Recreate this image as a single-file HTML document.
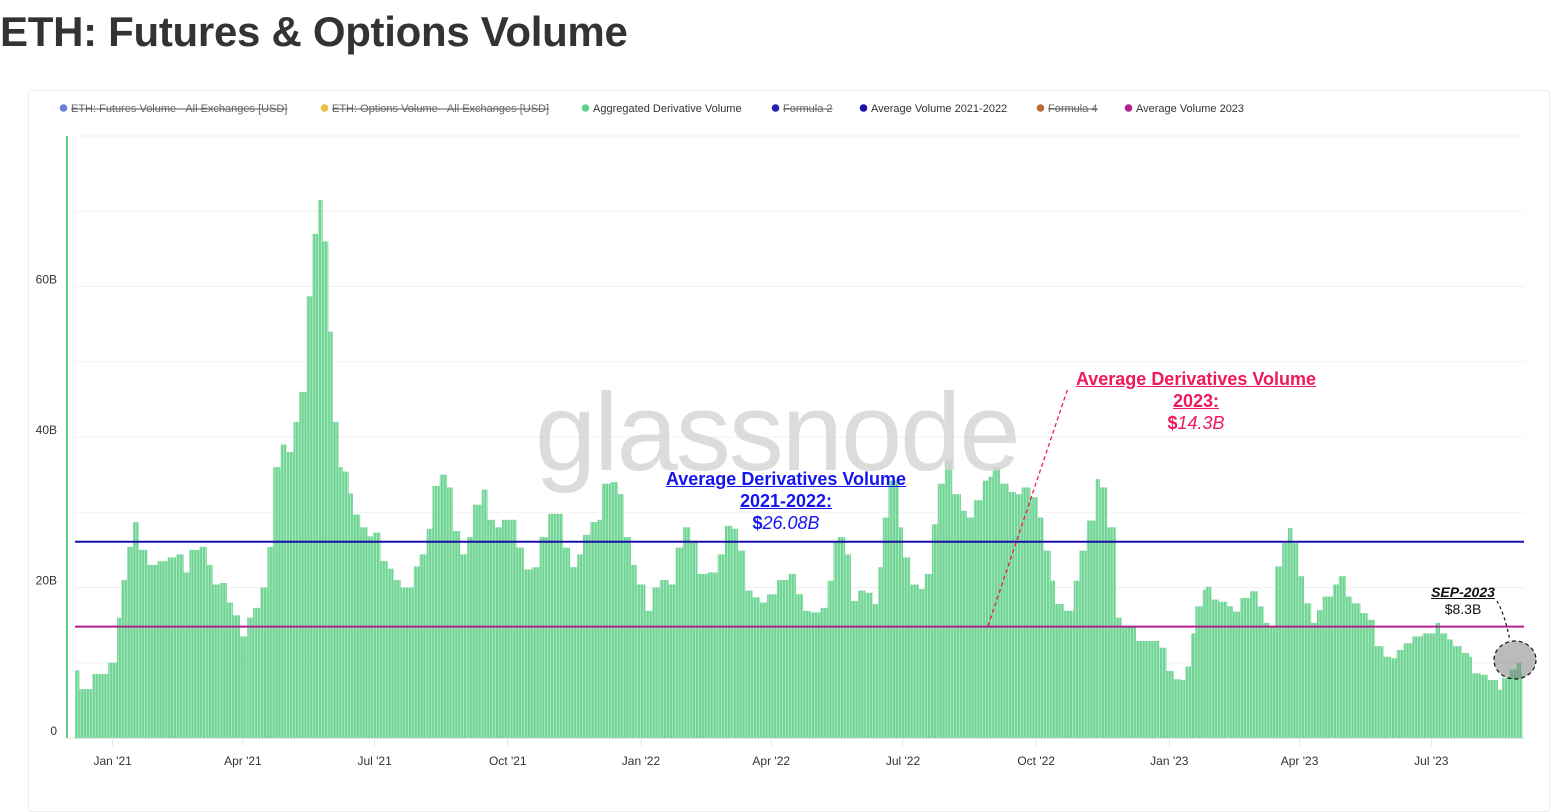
<!DOCTYPE html>
<html><head><meta charset="utf-8">
<style>
body{margin:0;background:#fff;width:1554px;height:802px;overflow:hidden;font-family:"Liberation Sans",sans-serif;}
#title{position:absolute;left:0;top:8px;font-size:42px;color:#333;margin:0;font-weight:bold;letter-spacing:-0.3px}
#card{position:absolute;left:28px;top:90px;width:1520px;height:720px;border:1px solid #ececec;border-radius:3px}
</style></head><body>
<h1 id="title">ETH: Futures &amp; Options Volume</h1>
<div id="card"></div>
<svg id="chart" width="1554" height="802" style="position:absolute;left:0;top:0">
<defs>
<pattern id="stripes" patternUnits="userSpaceOnUse" width="2.9" height="10">
<rect x="0" y="0" width="2.9" height="10" fill="#b9ebcb"/>
<rect x="0" y="0" width="2.1" height="10" fill="#6dd493"/>
</pattern>
</defs>
<g id="legend" font-size="11" fill="#333"></g>
<g id="grid"></g>
<g id="bars"></g>
<g id="lines"></g>
<g id="ann"></g>
</svg>
<script>
const dayIdx=[0,3,12,23,29,32,36,40,44,50,57,64,70,75,79,86,91,95,100,105,109,114,119,123,128,133,137,142,146,151,155,160,164,168,171,175,178,182,185,189,192,197,202,206,211,216,220,225,229,234,238,243,247,252,257,261,266,271,275,281,285,290,295,301,305,310,316,321,327,332,337,342,347,351,356,361,364,370,375,379,384,388,394,399,404,410,415,420,425,430,437,444,449,454,458,463,468,473,478,485,493,498,503,508,515,520,524,527,532,536,541,546,551,555,558,562,565,569,572,577,583,587,592,596,601,606,612,616,621,627,631,634,639,645,650,654,660,665,669,674,677,683,690,694,699,705,708,713,717,719,723,728,733,741,749,754,759,764,767,771,774,779,781,785,790,796,800,805,812,817,821,825,829,834,838,841,845,849,854,858,862,869,873,878,882,888,893,898,904,909,913,918,924,931,940,943,948,952,958,963,965,971,976,983,986,991,996,999];
const volume=[9.0,6.5,8.5,10,16,21,25.4,28.7,25,23,23.5,24,24.4,22,25,25.4,23,20.4,20.6,18,16.3,13.5,16,17.3,20,25.4,36,39,38,42,46,58.7,67,71.5,66,54,42,36,35.4,32.5,29.7,28,26.8,27.3,23.5,22.5,21,20,20,22.8,24.4,27.8,33.5,35,33.3,27.5,24.4,26.7,31,33,29,28,29,29,25.3,22.4,22.7,26.7,29.8,29.8,25.3,22.7,24.4,27,28.7,29,33.8,34,32.4,26.7,23,20.4,16.9,20,21,20.4,25.3,28,26.2,21.8,22,24.4,28.2,27.8,24.9,19.6,18.7,18,19.1,21,21.8,19.1,16.9,16.7,17.3,20.9,26.2,26.7,24.4,18.2,19.6,19.3,17.8,22.7,29.3,34.2,34.2,28,24,20.4,19.8,21.8,28.4,33.8,36.9,32.4,30.2,29.3,31.6,34.2,34.7,36,33.8,32.7,32.4,33.3,32,29.3,24.9,20.9,17.8,16.9,20.9,24.9,28.9,34.4,33.3,28,28,16,14.7,14.9,12.9,12.9,12,8.9,7.8,7.7,9.5,13.9,17.5,19.7,20.1,18.4,18.1,17.5,16.8,18.6,19.5,17.5,15.3,14.8,22.8,25.9,27.9,25.9,21.5,17.9,15.3,17,18.8,20.4,21.5,18.8,17.9,16.6,15.7,12.2,10.8,10.6,11.7,12.6,13.5,13.9,15.3,13.9,13.1,12.2,11.3,10.8,8.6,8.4,7.7,6.4,8,9.1,10,8.6];
const yTicks=[0,20,40,60];
const yTickLabels=["0","20B","40B","60B"];
const gridVals=[10,20,30,40,50,60,70,80];
const xTickDays=[26,116,207,299,391,481,572,664,756,846,937];
const xTickLabels=["Jan '21","Apr '21","Jul '21","Oct '21","Jan '22","Apr '22","Jul '22","Oct '22","Jan '23","Apr '23","Jul '23"];
const avg2122=26.08;
const avg2023=14.8;
const totalDays=1000;

const NS="http://www.w3.org/2000/svg";
const X0=75,X1=1522.5,Y0=738,YPX=7.525;
function xs(d){return X0+(X1-X0)*d/totalDays;}
function ys(v){return Y0-v*YPX;}
function mk(tag,attrs,parent,text){const e=document.createElementNS(NS,tag);for(const k in attrs)e.setAttribute(k,attrs[k]);if(text!==undefined)e.textContent=text;parent.appendChild(e);return e;}

const grid=document.getElementById('grid');
gridVals.forEach(v=>{const l=mk('line',{x1:75,x2:1524,y1:ys(v),y2:ys(v),stroke:'#f0f0f0','stroke-width':1},grid);

});
const base=mk('line',{x1:67,x2:1524,y1:Y0+0.5,y2:Y0+0.5,stroke:'#e6e6e6','stroke-width':1},grid);


const yax=mk('line',{x1:67,x2:67,y1:136,y2:738,stroke:'#5fd08a','stroke-width':2},grid);


yTicks.forEach((v,i)=>{const t=mk('text',{x:57,y:ys(v)-3,'text-anchor':'end','font-size':12,fill:'#333'},grid,yTickLabels[i]);

});
xTickDays.forEach((d,i)=>{const x=xs(d);
const tk=mk('line',{x1:x,x2:x,y1:739,y2:746,stroke:'#e6e6e6'},grid);


const t=mk('text',{x:x,y:765,'text-anchor':'middle','font-size':12,fill:'#333'},grid,xTickLabels[i]);

});

const bars=document.getElementById('bars');
for(let i=0;i<volume.length;i++){
 const d0=dayIdx[i],d1=(i+1<dayIdx.length?dayIdx[i+1]:totalDays);
 const x=xs(d0),w=xs(d1)-x,y=ys(volume[i]);
 const r=mk('rect',{x:x,y:y,width:w+0.05,height:Y0-y,fill:'url(#stripes)'},bars);
 
 
}

const lines=document.getElementById('lines');
const l1=mk('line',{x1:75,x2:1524,y1:ys(avg2122),y2:ys(avg2122),stroke:'#1a10a8','stroke-width':2},lines);


const l2=mk('line',{x1:75,x2:1524,y1:ys(avg2023),y2:ys(avg2023),stroke:'#b0208c','stroke-width':2},lines);



const legend=document.getElementById('legend');
const items=[[60,'#6b7fd8','ETH: Futures Volume - All Exchanges [USD]',true],[321,'#e8c04a','ETH: Options Volume - All Exchanges [USD]',true],[582,'#5fd08a','Aggregated Derivative Volume',false],[772,'#2b1fb0','Formula 2',true],[860,'#1a10a8','Average Volume 2021-2022',false],[1037,'#b86c3a','Formula 4',true],[1125,'#b0208c','Average Volume 2023',false]];
items.forEach(it=>{const g=mk('g',{},legend);


mk('circle',{cx:it[0]+3.5,cy:108,r:3.8,fill:it[1]},g);
mk('text',{x:it[0]+11,y:112,'font-size':11,fill:it[3]?'#666':'#333','text-decoration':it[3]?'line-through':'none'},g,it[2]);});
</script>
<div style="position:absolute;left:535px;top:378px;font-size:110px;color:#d6d6d6;font-family:'Liberation Sans',sans-serif;letter-spacing:-2px;line-height:1;opacity:0.85">glassnode</div>
<div style="position:absolute;left:626px;top:468px;width:320px;text-align:center;color:#1515f0;font-size:18px;line-height:22px">
<div style="font-weight:bold;text-decoration:underline">Average Derivatives Volume</div>
<div style="font-weight:bold;text-decoration:underline">2021-2022:</div>
<div><b>$</b><i>26.08B</i></div></div>
<div style="position:absolute;left:1036px;top:368px;width:320px;text-align:center;color:#f0185a;font-size:18px;line-height:22px">
<div style="font-weight:bold;text-decoration:underline">Average Derivatives Volume</div>
<div style="font-weight:bold;text-decoration:underline">2023:</div>
<div><b>$</b><i>14.3B</i></div></div>
<div style="position:absolute;left:1413px;top:584px;width:100px;text-align:center;color:#111;font-size:14px;line-height:17px">
<div style="font-weight:bold;font-style:italic;text-decoration:underline">SEP-2023</div>
<div>$8.3B</div></div>
<svg width="1554" height="802" style="position:absolute;left:0;top:0;pointer-events:none">
<line x1="988" y1="626" x2="1068" y2="388" stroke="#f0185a" stroke-width="1.3" stroke-dasharray="4,3"/>
<path d="M1497 601 Q1505 615 1510 641" fill="none" stroke="#111" stroke-width="1.2" stroke-dasharray="3,3"/>
<ellipse cx="1515" cy="660" rx="21" ry="19" fill="rgba(120,120,120,0.5)" stroke="#111" stroke-width="1.2" stroke-dasharray="4,3"/>
</svg>
</body></html>
